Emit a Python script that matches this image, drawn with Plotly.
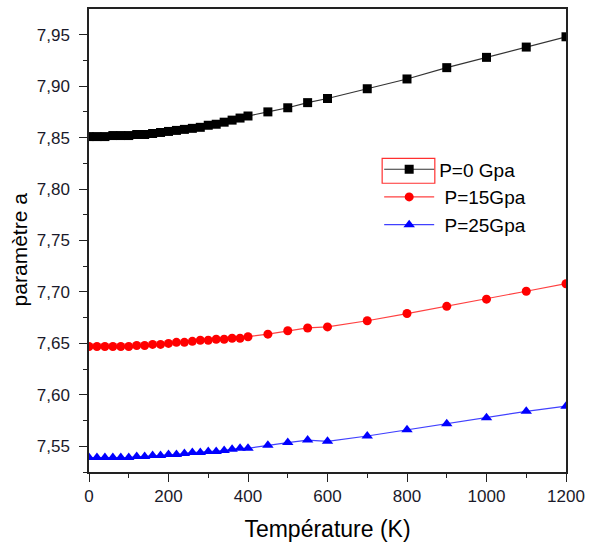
import plotly.graph_objects as go

temps = [0, 20, 40, 60, 80, 100, 120, 140, 160, 180, 200, 220, 240, 260, 280, 300,
         320, 340, 360, 380, 400, 450, 500, 550, 600, 700, 800, 900, 1000, 1100, 1200]

a_p0 = [7.851, 7.851, 7.851, 7.852, 7.852, 7.852, 7.853, 7.853, 7.854, 7.855, 7.856,
        7.857, 7.858, 7.859, 7.860, 7.862, 7.863, 7.865, 7.867, 7.869, 7.871,
        7.875, 7.879, 7.884, 7.888, 7.8975, 7.907, 7.918, 7.928, 7.938, 7.948]

a_p15 = [7.647, 7.647, 7.647, 7.647, 7.647, 7.647, 7.648, 7.648, 7.649, 7.649, 7.650,
         7.651, 7.651, 7.652, 7.653, 7.653, 7.654, 7.654, 7.655, 7.655, 7.6565,
         7.659, 7.6623, 7.665, 7.666, 7.672, 7.679, 7.686, 7.693, 7.7007, 7.708]

a_p25 = [7.539, 7.539, 7.539, 7.539, 7.539, 7.539, 7.540, 7.540, 7.541, 7.541, 7.542,
         7.542, 7.543, 7.544, 7.544, 7.545, 7.545, 7.546, 7.547, 7.548, 7.548,
         7.551, 7.5536, 7.556, 7.5548, 7.560, 7.566, 7.572, 7.5778, 7.584, 7.589]

series_names = ["P=0 Gpa", " P=15Gpa", " P=25Gpa"]

y_tick_vals = [7.55, 7.60, 7.65, 7.70, 7.75, 7.80, 7.85, 7.90, 7.95]
y_tick_text = ["7,55", "7,60", "7,65", "7,70", "7,75", "7,80", "7,85", "7,90", "7,95"]
x_tick_vals = [0, 200, 400, 600, 800, 1000, 1200]

FONT = "Arial, Liberation Sans, sans-serif"

fig = go.Figure()
fig.add_trace(go.Scatter(x=temps, y=a_p0, name=series_names[0], mode="lines+markers",
                         line=dict(color="#333333", width=1.2),
                         marker=dict(symbol="square", size=9, color="black")))
fig.add_trace(go.Scatter(x=temps, y=a_p15, name=series_names[1], mode="lines+markers",
                         line=dict(color="#ff4040", width=1.2),
                         marker=dict(symbol="circle", size=9, color="#ff0000")))
fig.add_trace(go.Scatter(x=temps, y=a_p25, name=series_names[2], mode="lines+markers",
                         line=dict(color="#4040ff", width=1.2),
                         marker=dict(symbol="triangle-up", size=10, color="#0000ff")))

axis_common = dict(showline=True, linecolor="#222222", linewidth=1.5, mirror=True,
                   showgrid=False, zeroline=False, ticks="outside", ticklen=8,
                   tickwidth=1.2, tickcolor="#222222",
                   tickfont=dict(family=FONT, size=17, color="#1a1a2a"))

fig.update_xaxes(range=[0, 1200], tickvals=x_tick_vals,
                 minor=dict(dtick=100, ticks="outside", ticklen=4, tickcolor="#222222"),
                 title=dict(text="Température (K)", font=dict(family=FONT, size=23, color="black"), standoff=16),
                 **axis_common)
fig.update_yaxes(range=[7.525, 7.975], tickvals=y_tick_vals, ticktext=y_tick_text,
                 ticklabelstandoff=6,
                 minor=dict(tickvals=[7.525, 7.575, 7.625, 7.675, 7.725, 7.775, 7.825, 7.875, 7.925],
                            ticks="outside", ticklen=4, tickcolor="#222222"),
                 **axis_common)

fig.add_annotation(text="paramètre a", textangle=-90, xref="paper", yref="paper",
                   x=(20 - 89) / 480, y=(472 - 248) / 465, xanchor="center", yanchor="middle",
                   showarrow=False, font=dict(family=FONT, size=21, color="black"))

fig.add_shape(type="rect", xref="paper", yref="paper",
              x0=(384 - 89) / 480, x1=(437 - 89) / 480,
              y0=(472 - 182) / 465, y1=(472 - 157) / 465,
              line=dict(color="#ff3030", width=1.2))

fig.update_layout(
    width=592, height=545,
    margin=dict(l=89, r=23, t=7, b=73),
    paper_bgcolor="white", plot_bgcolor="white",
    showlegend=True,
    legend=dict(x=(381 - 89) / 480, y=(472 - 149) / 465, xanchor="left", yanchor="top",
                bgcolor="rgba(0,0,0,0)", font=dict(family=FONT, size=19, color="black"),
                itemwidth=50, tracegroupgap=0),
)

fig.write_html("out.html")
